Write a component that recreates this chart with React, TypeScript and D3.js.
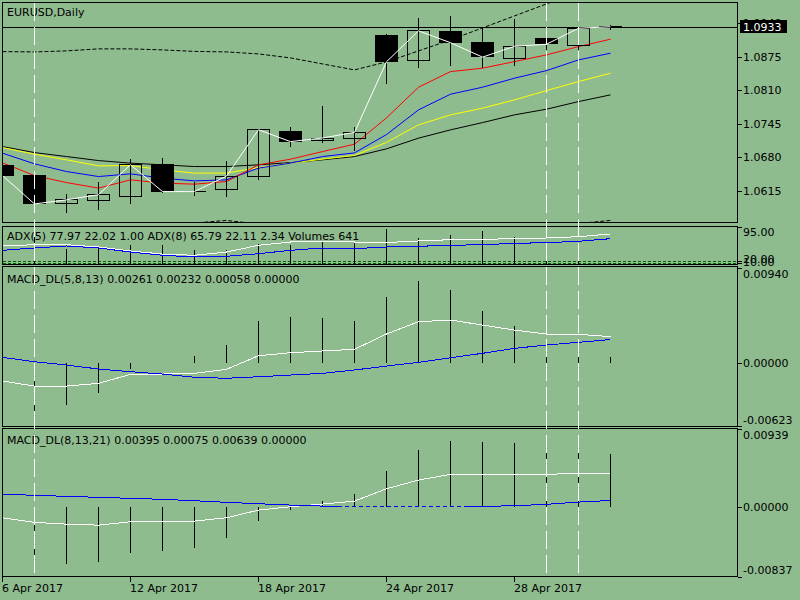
import React from "react";
import * as d3 from "d3";

const dates = ["6 Apr 2017","7 Apr 2017","10 Apr 2017","11 Apr 2017","12 Apr 2017","13 Apr 2017","14 Apr 2017","17 Apr 2017","18 Apr 2017","19 Apr 2017","20 Apr 2017","21 Apr 2017","24 Apr 2017","25 Apr 2017","26 Apr 2017","27 Apr 2017","28 Apr 2017","1 May 2017","2 May 2017","3 May 2017"];
const dateTickIdx = [0, 4, 8, 12, 16];
const markerIdx = [1, 17, 18];

const open  = [1.0665,1.0645,1.0589,1.0596,1.0603,1.0667,1.0614,1.0618,1.0643,1.0731,1.0713,1.0717,1.0917,1.0868,1.0924,1.0903,1.0871,1.0912,1.0897,1.0932];
const high  = [1.0672,1.0648,1.0609,1.0631,1.0677,1.0678,1.0632,1.0672,1.0734,1.0739,1.0779,1.0739,1.0918,1.0950,1.0953,1.0930,1.0948,1.0923,1.0933,1.0937];
const low   = [1.0638,1.0588,1.0571,1.0578,1.0589,1.0610,1.0605,1.0603,1.0636,1.0700,1.0708,1.0691,1.0821,1.0852,1.0856,1.0852,1.0856,1.0888,1.0888,1.0926];
const close = [1.0644,1.0589,1.0597,1.0607,1.0665,1.0613,1.0613,1.0643,1.0733,1.0710,1.0717,1.0728,1.0865,1.0925,1.0902,1.0874,1.0895,1.0899,1.0930,1.0933];

const maRed    = [1.06687,1.06441,1.06305,1.06197,1.06358,1.06294,1.06274,1.06325,1.06649,1.06759,1.06907,1.0705,1.07561,1.08156,1.08459,1.08525,1.08653,1.08783,1.08944,1.09088];
const maBlue   = [1.06876,1.06668,1.06519,1.06422,1.06474,1.06391,1.06338,1.06358,1.06585,1.06682,1.0681,1.06881,1.07237,1.07716,1.0802,1.08156,1.08331,1.08478,1.08686,1.08816];
const maYellow = [1.06984,1.06856,1.06746,1.06629,1.06635,1.06552,1.06488,1.06488,1.06596,1.06682,1.06759,1.06833,1.07085,1.07425,1.07619,1.07749,1.0791,1.0809,1.08265,1.08428];
const maBlack  = [1.07004,1.06887,1.0681,1.06732,1.06682,1.06649,1.06616,1.06616,1.06649,1.06693,1.06746,1.0681,1.06959,1.07167,1.07328,1.07469,1.07619,1.07729,1.07877,1.08007];
const bandUpper = [1.08847,1.08841,1.08861,1.089,1.089,1.0888,1.08851,1.08841,1.08802,1.08725,1.08608,1.08492,1.08647,1.08861,1.09074,1.09307,1.0954,1.09773,1.10006,1.10239];
const bandLower = [1.0520,1.0515,1.0512,1.0515,1.0525,1.0540,1.0552,1.0557,1.0550,1.0535,1.0520,1.0505,1.0495,1.0500,1.0510,1.0525,1.0538,1.0546,1.0551,1.0557];

const priceTicks = ["1.0940","1.0875","1.0810","1.0745","1.0680","1.0615"];
const lastPrice = 1.0933;

const adx5 = [46.9,50.2,50.2,44.3,33.9,26.1,22.8,31.3,48.7,57.2,58.5,57.2,55.9,59.8,63.2,64.2,65.8,67.6,70.9,77.97];
const adx8 = [35.7,41.7,46.9,41.7,31.3,22.8,18.4,20.2,26.9,35.7,41.7,39.9,44.3,46.1,48.7,50.2,53.8,55.4,59.0,65.79];
const volumes = [95000,133500,64400,80000,83300,83300,59600,59600,90900,83300,103700,103700,159100,119300,130700,149600,122600,59600,90900,641];
const adxLevels = [8.0, 2.8];
const adxTopLabel = "95.00";
const adxLevelLabels = ["20.00", "10.00"];

const macd1Main   = [-0.00178,-0.00228,-0.00228,-0.00201,-0.00112,-0.00109,-0.00102,-0.00062,0.00072,0.00102,0.00119,0.00136,0.00287,0.00409,0.00425,0.00376,0.00326,0.00287,0.00284,0.00261];
const macd1Signal = [0.00056,0.00013,-0.0002,-0.00059,-0.00086,-0.00109,-0.00141,-0.00151,-0.00136,-0.00119,-0.00102,-0.00069,-0.0003,0.00007,0.00052,0.00096,0.00145,0.00178,0.00205,0.00232];
const macd1Hist   = [-0.0047,-0.00495,-0.00415,-0.00297,-0.0006,0.0000,0.0007,0.0018,0.0042,0.00455,0.00445,0.0042,0.0065,0.0081,0.0072,0.00514,0.00366,0.00228,0.00161,0.00058];
const macd1Ticks = [0.0094, 0, -0.00623];

const macd2Main   = [-0.00132,-0.00187,-0.00209,-0.00221,-0.0018,-0.0018,-0.00172,-0.00132,-0.0004,0.0,0.00032,0.00068,0.00216,0.0032,0.00389,0.00389,0.00389,0.00389,0.00401,0.00395];
const macd2Signal = [0.00152,0.00137,0.00125,0.00113,0.00101,0.00089,0.00072,0.00053,0.00036,0.0002,0.00008,0.0,0.0,0.0,0.0,0.00005,0.00012,0.00029,0.00056,0.00075];
const macd2Hist   = [-0.0066,-0.0066,-0.00691,-0.00667,-0.00552,-0.00528,-0.00492,-0.00379,-0.00168,-0.0004,0.00068,0.00152,0.00428,0.0068,0.00792,0.0078,0.00761,0.0072,0.00692,0.00639];
const macd2Ticks = [0.00939, 0, -0.00837];

const BG = "#8FBC8F";
const FONT = "DejaVu Sans";
const LEFT = 2.5, RIGHT = 737.5;

const x = d3.scaleLinear().domain([0, 19]).range([2.5, 610.5]);
const yPrice = d3.scaleLinear().domain([1.0552, 1.0981]).range([223, 2]);
const yAdx = d3.scaleLinear().domain([0, 95]).range([264.1, 227.4]);
const yVol = d3.scaleLinear().domain([-10000, 170000]).range([265, 227]);
const yM1 = d3.scaleLinear().domain([-0.00623, 0.0094]).range([426, 268]);
const yM2 = d3.scaleLinear().domain([-0.00837, 0.00939]).range([576.5, 428.5]);

function mkLine(vals: number[], ys: d3.ScaleLinear<number, number>) {
  return d3.line<number>().x((_, i) => x(i)).y((d) => ys(d))(vals) || "";
}

function fmt(v: number, dec: number) {
  return v.toFixed(dec);
}

function AxisLabels({ ticks, ys, dec }: { ticks: number[]; ys: d3.ScaleLinear<number, number>; dec: number }) {
  return (
    <g>
      {ticks.map((t, i) => {
        const yy = ys(t);
        const off = i === 0 ? 10 : i === ticks.length - 1 ? -2.5 : 4;
        return (
          <g key={i}>
            <line x1={RIGHT} x2={RIGHT + 4} y1={Math.round(yy) + 0.5} y2={Math.round(yy) + 0.5} stroke="#000" />
            <text x={743} y={yy + off} fontSize={11} fontFamily={FONT} fill="#000">{fmt(t, dec)}</text>
          </g>
        );
      })}
    </g>
  );
}

export default function App() {
  const n = dates.length;
  const idx = d3.range(n);
  return (
    <svg width={800} height={600} style={{ position: "absolute", left: 0, top: 0, display: "block" }} shapeRendering="crispEdges">
      <defs>
        <clipPath id="cMain"><rect x={3} y={3} width={734} height={219.5} /></clipPath>
        <clipPath id="cAdx"><rect x={3} y={227} width={734} height={37.5} /></clipPath>
        <clipPath id="cM1"><rect x={3} y={267} width={734} height={159} /></clipPath>
        <clipPath id="cM2"><rect x={3} y={429} width={734} height={147.5} /></clipPath>
        <clipPath id="cM2solid"><rect x={3} y={429} width={335} height={148} /><rect x={465} y={429} width={272} height={148} /></clipPath>
        <clipPath id="cM2dash"><rect x={338} y={429} width={127} height={148} /></clipPath>
      </defs>
      <rect x={0} y={0} width={800} height={600} fill={BG} />

      {/* Main panel */}
      <g clipPath="url(#cMain)">
        <line x1={LEFT} x2={RIGHT} y1={Math.round(yPrice(lastPrice)) + 0.5} y2={Math.round(yPrice(lastPrice)) + 0.5} stroke="#000" />
        <path d={mkLine(bandUpper, yPrice)} fill="none" stroke="#000" strokeDasharray="4 2" shapeRendering="auto" />
        <path d={mkLine(bandLower, yPrice)} fill="none" stroke="#000" strokeDasharray="4 2" shapeRendering="auto" />
        <path d={mkLine(maBlack, yPrice)} fill="none" stroke="#000" shapeRendering="auto" />
        <path d={mkLine(maYellow, yPrice)} fill="none" stroke="#FFFF00" shapeRendering="auto" />
        <path d={mkLine(maBlue, yPrice)} fill="none" stroke="#0000FF" shapeRendering="auto" />
        <path d={mkLine(maRed, yPrice)} fill="none" stroke="#FF0000" shapeRendering="auto" />
        {idx.map((i) => {
          const cx = x(i);
          const bear = close[i] < open[i];
          const yTop = yPrice(Math.max(open[i], close[i]));
          const yBot = yPrice(Math.min(open[i], close[i]));
          return (
            <g key={i}>
              <line x1={cx} x2={cx} y1={yPrice(high[i])} y2={yPrice(low[i])} stroke="#000" />
              {bear ? (
                <rect x={cx - 11.5} y={yTop} width={23} height={Math.max(1, yBot - yTop)} fill="#000" />
              ) : (
                <rect x={cx - 11} y={yTop} width={22} height={Math.max(0.5, yBot - yTop)} fill="none" stroke="#000" />
              )}
            </g>
          );
        })}
        <path d={mkLine(close, yPrice)} fill="none" stroke="#FFFFFF" shapeRendering="auto" />
      </g>
      <text x={7} y={16} fontSize={11} fontFamily={FONT} fill="#000">EURUSD,Daily</text>
      <rect x={LEFT} y={2.5} width={RIGHT - LEFT} height={220} fill="none" stroke="#000" />
      {priceTicks.map((t, i) => {
        const yy = yPrice(+t);
        return (
          <g key={i}>
            <line x1={RIGHT} x2={RIGHT + 4} y1={Math.round(yy) + 0.5} y2={Math.round(yy) + 0.5} stroke="#000" />
            <text x={743} y={yy + 4} fontSize={11} fontFamily={FONT} fill="#000">{t}</text>
          </g>
        );
      })}
      <rect x={740} y={yPrice(lastPrice) - 6.5} width={47} height={13} fill="#000" />
      <text x={743} y={yPrice(lastPrice) + 4} fontSize={11} fontFamily={FONT} fill="#FFFFFF">{fmt(lastPrice, 4)}</text>

      {/* ADX + Volumes panel */}
      <g clipPath="url(#cAdx)">
        {adxLevels.map((lv, i) => (
          <line key={i} x1={LEFT} x2={RIGHT} y1={Math.round(yAdx(lv)) + 0.5} y2={Math.round(yAdx(lv)) + 0.5} stroke="#006400" strokeDasharray="3 2" />
        ))}
        {idx.map((i) => (
          <line key={i} x1={x(i)} x2={x(i)} y1={yVol(volumes[i])} y2={265} stroke="#000" />
        ))}
        <path d={mkLine(adx5, yAdx)} fill="none" stroke="#FFFFFF" />
        <path d={mkLine(adx8, yAdx)} fill="none" stroke="#0000FF" />
      </g>
      <text x={7} y={240} fontSize={11} fontFamily={FONT} fill="#000">ADX(5) 77.97 22.02 1.00 ADX(8) 65.79 22.11 2.34 Volumes 641</text>
      <rect x={LEFT} y={226.5} width={RIGHT - LEFT} height={38} fill="none" stroke="#000" />
      <line x1={RIGHT} x2={RIGHT + 4} y1={227.5} y2={227.5} stroke="#000" />
      <text x={743} y={236} fontSize={11} fontFamily={FONT} fill="#000">{adxTopLabel}</text>
      {adxLevels.map((lv, i) => (
        <g key={i}>
          <line x1={RIGHT} x2={RIGHT + 4} y1={Math.round(yAdx(lv)) + 0.5} y2={Math.round(yAdx(lv)) + 0.5} stroke="#000" />
          <text x={743} y={i === 0 ? 262.5 : 266} fontSize={11} fontFamily={FONT} fill="#000">{adxLevelLabels[i]}</text>
        </g>
      ))}

      {/* MACD 1 */}
      <g clipPath="url(#cM1)">
        {idx.map((i) => (
          <line key={i} x1={x(i)} x2={x(i)} y1={yM1(0)} y2={yM1(macd1Hist[i])} stroke="#000" />
        ))}
        <path d={mkLine(macd1Main, yM1)} fill="none" stroke="#FFFFFF" />
        <path d={mkLine(macd1Signal, yM1)} fill="none" stroke="#0000FF" />
      </g>
      <text x={7} y={283} fontSize={11} fontFamily={FONT} fill="#000">MACD_DL(5,8,13) 0.00261 0.00232 0.00058 0.00000</text>
      <rect x={LEFT} y={266.5} width={RIGHT - LEFT} height={160} fill="none" stroke="#000" />
      <AxisLabels ticks={macd1Ticks} ys={yM1} dec={5} />

      {/* MACD 2 */}
      <g clipPath="url(#cM2)">
        {idx.map((i) => (
          <line key={i} x1={x(i)} x2={x(i)} y1={yM2(0)} y2={yM2(macd2Hist[i])} stroke="#000" />
        ))}
        <path d={mkLine(macd2Main, yM2)} fill="none" stroke="#FFFFFF" />
        <path d={mkLine(macd2Signal, yM2)} fill="none" stroke="#0000FF" clipPath="url(#cM2solid)" />
        <path d={mkLine(macd2Signal, yM2)} fill="none" stroke="#0000FF" strokeDasharray="4 3" clipPath="url(#cM2dash)" />
      </g>
      <text x={7} y={444} fontSize={11} fontFamily={FONT} fill="#000">MACD_DL(8,13,21) 0.00395 0.00075 0.00639 0.00000</text>
      <rect x={LEFT} y={428.5} width={RIGHT - LEFT} height={148} fill="none" stroke="#000" />
      <AxisLabels ticks={macd2Ticks} ys={yM2} dec={5} />

      {/* vertical dashed markers */}
      {markerIdx.map((i) => (
        <line key={i} x1={x(i)} x2={x(i)} y1={3} y2={576} stroke="#FFFFFF" strokeDasharray="18 6" />
      ))}

      {/* date axis */}
      {dateTickIdx.map((i) => (
        <g key={i}>
          <line x1={x(i)} x2={x(i)} y1={577} y2={582} stroke="#000" />
          <text x={x(i) - 0.5} y={592} fontSize={11} fontFamily={FONT} fill="#000">{dates[i]}</text>
        </g>
      ))}
    </svg>
  );
}
